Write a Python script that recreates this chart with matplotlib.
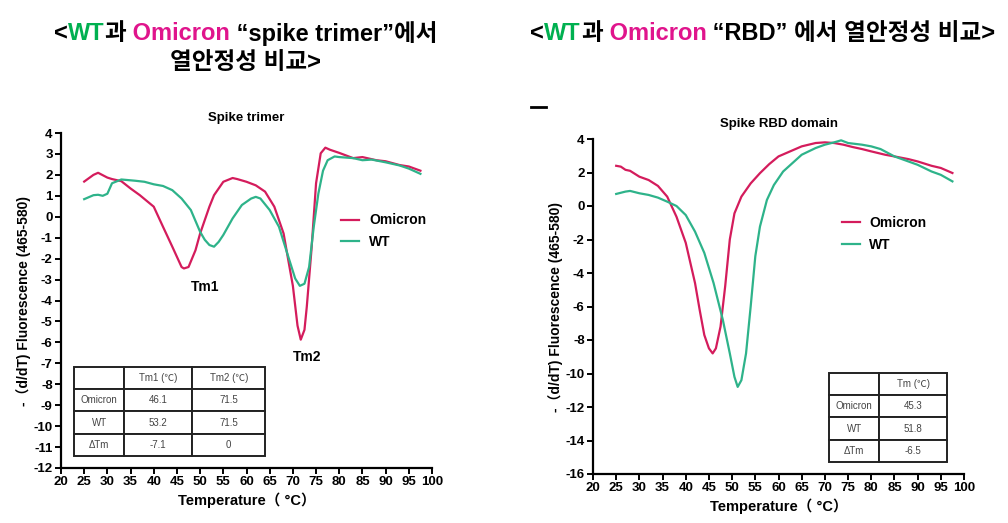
import numpy as np
import matplotlib
matplotlib.use('Agg')
import matplotlib.pyplot as plt
from matplotlib.lines import Line2D

# ============================================================================
# DATOS
# ============================================================================
# Spike trimer
trimer_omi_t = [25, 27, 28, 30, 31, 33, 35, 37, 40, 42, 44, 46, 46.5, 47.5, 49, 50, 52, 53, 55,
                57, 58, 60, 62, 64, 66, 68, 69, 70, 71, 71.7, 72.5, 73, 74, 75, 76, 77, 78,
                80, 83, 85, 88, 90, 93, 95, 97.5]
trimer_omi = [1.68, 2.0, 2.1, 1.87, 1.8, 1.7, 1.35, 1.03, 0.48, -0.48, -1.43, -2.4, -2.47, -2.4,
              -1.6, -0.8, 0.48, 1.03, 1.67, 1.85, 1.8, 1.67, 1.5, 1.2, 0.48, -0.8, -2.06, -3.3,
              -5.2, -5.87, -5.4, -4.3, -1.6, 1.6, 3.03, 3.3, 3.2, 3.05, 2.8, 2.85, 2.7, 2.65,
              2.47, 2.4, 2.2]
trimer_wt_t = [25, 27, 28, 29, 30, 31, 33, 36, 38, 40, 42, 44, 46, 48, 50, 51, 52, 53, 54, 55,
               57, 59, 61, 62, 63, 65, 67, 69, 70.5, 71.5, 72.5, 73.5, 74.5, 75.5, 76.5, 77.5,
               79, 80, 83, 85, 87, 90, 93, 95, 97.5]
trimer_wt = [0.84, 1.03, 1.05, 1.0, 1.1, 1.6, 1.78, 1.72, 1.67, 1.55, 1.47, 1.27, 0.87, 0.32,
             -0.72, -1.1, -1.35, -1.43, -1.2, -0.87, -0.08, 0.56, 0.87, 0.95, 0.87, 0.32, -0.48,
             -1.9, -2.95, -3.3, -3.2, -2.4, -0.48, 1.11, 2.2, 2.7, 2.88, 2.85, 2.8, 2.7, 2.73,
             2.6, 2.45, 2.3, 2.05]

# Spike RBD domain
rbd_omi_t = [25, 26, 27, 28, 30, 32, 34, 36, 38, 40, 42, 43, 44, 45, 45.8, 46.5, 47.5, 48.5,
             49.5, 50.5, 52, 54, 56, 58, 60, 62, 65, 68, 70, 72, 74, 76, 78, 80, 83, 85, 88,
             90, 93, 95, 97.5]
rbd_omi = [2.4, 2.35, 2.16, 2.1, 1.75, 1.55, 1.2, 0.56, -0.64, -2.2, -4.6, -6.2, -7.7, -8.5,
           -8.8, -8.5, -7.2, -4.8, -2.0, -0.44, 0.56, 1.35, 1.96, 2.5, 2.96, 3.2, 3.56, 3.76,
           3.8, 3.76, 3.66, 3.52, 3.4, 3.26, 3.06, 2.96, 2.8, 2.66, 2.4, 2.27, 1.97]
rbd_wt_t = [25, 27, 28, 30, 32, 34, 36, 38, 40, 42, 44, 46, 48, 49.5, 50.5, 51.2, 52, 53, 54,
            55, 56, 57.5, 59, 61, 63, 65, 68, 70, 72, 73.5, 75, 78, 80, 82, 85, 88, 90, 93,
            95, 97.5]
rbd_wt = [0.72, 0.86, 0.9, 0.76, 0.66, 0.5, 0.26, 0.0, -0.54, -1.53, -2.8, -4.6, -6.8, -8.8,
          -10.2, -10.8, -10.4, -8.8, -6.0, -3.0, -1.23, 0.36, 1.25, 2.06, 2.56, 3.06, 3.46,
          3.66, 3.8, 3.92, 3.76, 3.66, 3.56, 3.4, 2.96, 2.66, 2.46, 2.06, 1.86, 1.47]

# Tablas
trimer_cols = ['', 'Tm1 (℃)', 'Tm2 (℃)']
trimer_rows = [['Omicron', '46.1', '71.5'],
               ['WT', '53.2', '71.5'],
               ['ΔTm', '-7.1', '0']]
rbd_cols = ['', 'Tm (℃)']
rbd_rows = [['Omicron', '45.3'],
            ['WT', '51.8'],
            ['ΔTm', '-6.5']]

C_OMI = '#d41c5c'
C_WT = '#2eb38a'
T_GREEN = '#00b050'
T_MAGENTA = '#e0148c'

LAB_FONT = ['Liberation Sans', 'Noto Sans CJK KR', 'DejaVu Sans']

plt.rcParams['font.family'] = LAB_FONT
plt.rcParams['axes.unicode_minus'] = False

fig = plt.figure(figsize=(10.08, 5.23), dpi=100)
W, H = 1008, 523


def make_ax(x0, x1, ytop, ybot):
    return fig.add_axes([x0 / W, 1 - ybot / H, (x1 - x0) / W, (ybot - ytop) / H])


ax1 = make_ax(61, 432, 133, 468)
ax2 = make_ax(593, 964, 139, 474)


def style_ax(ax, ymin, ymax, ystep):
    ax.set_xlim(20, 100)
    ax.set_ylim(ymin, ymax)
    ax.set_xticks(range(20, 101, 5))
    ax.set_yticks(range(ymin, ymax + 1, ystep))
    for s in ['top', 'right']:
        ax.spines[s].set_visible(False)
    for s in ['left', 'bottom']:
        ax.spines[s].set_linewidth(1.6)
    ax.tick_params(direction='out', length=4, width=1.4, pad=2)
    for lab in ax.get_xticklabels() + ax.get_yticklabels():
        lab.set_fontweight('bold')
        lab.set_fontsize(9.5)
    ax.set_xlabel('Temperature（ °C）', fontsize=10.5, fontweight='bold', labelpad=3)
    ax.set_ylabel('-（d/dT) Fluorescence (465-580)', fontsize=10, fontweight='bold', labelpad=2)


def draw_table(ax, cols, rows, bbox, widths):
    tb = ax.table(cellText=rows, colLabels=cols, bbox=bbox, colWidths=widths,
                  cellLoc='center', zorder=5)
    tb.auto_set_font_size(False)
    tb.set_fontsize(7)
    for (r, c), cell in tb.get_celld().items():
        cell.set_linewidth(1.4)
        cell.set_edgecolor('#222222')
        cell.set_facecolor('white')
        cell.get_text().set_color('#444444')
    return tb


# Spike trimer
ax1.plot(trimer_omi_t, trimer_omi, color=C_OMI, lw=1.6, label='Omicron')
ax1.plot(trimer_wt_t, trimer_wt, color=C_WT, lw=1.6, label='WT')
style_ax(ax1, -12, 4, 1)
ax1.set_title('Spike trimer', fontsize=9.5, fontweight='bold', pad=9)
ax1.text(51, -3.35, 'Tm1', fontsize=10, fontweight='bold', ha='center', va='center')
ax1.text(73, -6.7, 'Tm2', fontsize=10, fontweight='bold', ha='center', va='center')
ax1.legend(loc='upper left', bbox_to_anchor=(0.755, 0.76), frameon=False,
           prop={'weight': 'bold', 'size': 10}, handlelength=1.3, handletextpad=0.7,
           labelspacing=0.55, borderpad=0, borderaxespad=0)
draw_table(ax1, trimer_cols, trimer_rows, [0.035, 0.036, 0.515, 0.266],
           [0.2635, 0.356, 0.3805])

# Spike RBD domain
ax2.plot(rbd_omi_t, rbd_omi, color=C_OMI, lw=1.6, label='Omicron')
ax2.plot(rbd_wt_t, rbd_wt, color=C_WT, lw=1.6, label='WT')
style_ax(ax2, -16, 4, 2)
ax2.set_title('Spike RBD domain', fontsize=9.5, fontweight='bold', pad=9)
ax2.legend(loc='upper left', bbox_to_anchor=(0.67, 0.77), frameon=False,
           prop={'weight': 'bold', 'size': 10}, handlelength=1.3, handletextpad=0.7,
           labelspacing=0.55, borderpad=0, borderaxespad=0)
draw_table(ax2, rbd_cols, rbd_rows, [0.636, 0.036, 0.318, 0.266], [0.425, 0.575])

# pequeño guion suelto
fig.add_artist(Line2D([531 / W, 546 / W], [1 - 107 / H, 1 - 107 / H], color='black', lw=2))

# ============================================================================
# TITULOS MULTICOLOR
# ============================================================================
fig.canvas.draw()
renderer = fig.canvas.get_renderer()


def color_line(pieces, xc, y, size=17):
    texts = []
    for s, col in pieces:
        t = fig.text(0, 1 - y / H, s, color=col, fontsize=size, fontweight='bold',
                     family=LAB_FONT, va='center', ha='left')
        texts.append(t)
    widths = [t.get_window_extent(renderer).width for t in texts]
    x = xc - sum(widths) / 2
    for t, w in zip(texts, widths):
        t.set_x(x / W)
        x += w


color_line([('<', 'black'), ('WT', T_GREEN), ('과', 'black'), (' Omicron', T_MAGENTA),
            (' “spike trimer”에서', 'black')], 246, 34)
color_line([('열안정성 비교>', 'black')], 246, 62)
color_line([('<', 'black'), ('WT', T_GREEN), ('과', 'black'), (' Omicron', T_MAGENTA),
            (' “RBD” 에서 열안정성 비교>', 'black')], 763, 34)

fig.savefig('out.png', dpi=100)
